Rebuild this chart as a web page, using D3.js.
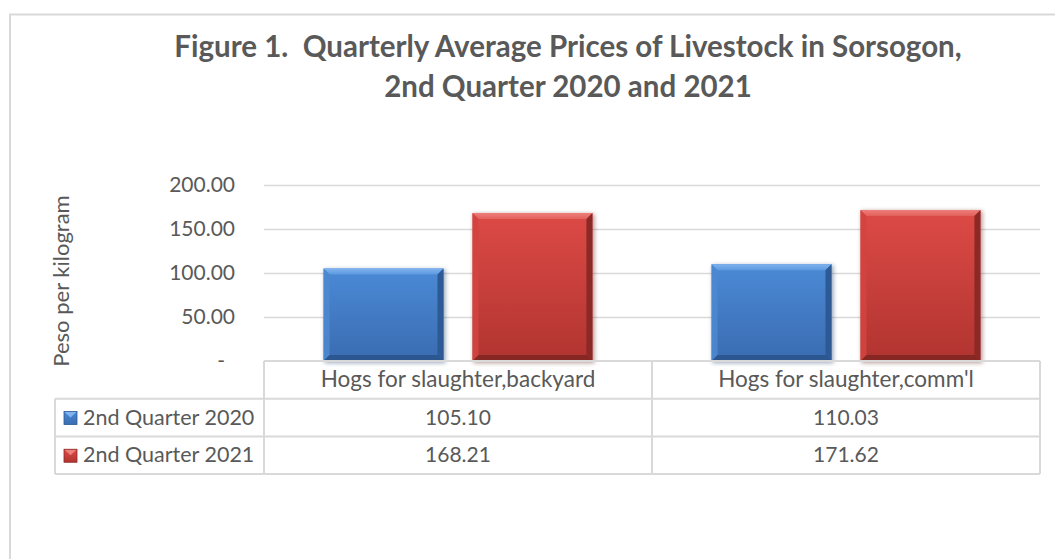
<!DOCTYPE html>
<html>
<head>
<meta charset="utf-8">
<script src="https://cdn.jsdelivr.net/npm/d3@7"></script>
<style>
  html, body { margin: 0; padding: 0; background: #fff; }
  svg { display: block; }
  text { font-family: Lato, "Noto Sans", sans-serif; fill: #595959; }
</style>
</head>
<body>
<div id="chart"></div>
<script>
// Data
const categories = ["Hogs for slaughter,backyard", "Hogs for slaughter,comm'l"];
const seriesNames = ["2nd Quarter 2020", "2nd Quarter 2021"];
const values2020 = [105.10, 110.03];
const values2021 = [168.21, 171.62];
const yTicks = [0, 50, 100, 150, 200];
const titleLines = ["Figure 1.  Quarterly Average Prices of Livestock in Sorsogon,", "2nd Quarter 2020 and 2021"];
const yAxisTitle = "Peso per kilogram";

const seriesValues = [values2020, values2021];

// Dimensions
const width = 1055;
const height = 559;
const plot = { left: 264, right: 1040, top: 185, bottom: 361 };
const rowH = 37.7;
const legendLeft = 55;
const bevel = 6;

const palette = [
  { top: "#4b8ad6", bottom: "#3a6cb1", hi: "#80b3ef", hi2: "#5c99df", left: "#4d88cf", right: "#2d5994", low: "#2b568f", shadow: "#1f3f6c" },
  { top: "#dd4a46", bottom: "#b13430", hi: "#ee7f7b", hi2: "#e2605c", left: "#d2443f", right: "#8b2926", low: "#862724", shadow: "#5e1b19" }
];

const svg = d3.select("#chart")
  .append("svg")
  .attr("width", width)
  .attr("height", height);

// outer chart border (cut by the image edge on right and bottom)
svg.append("path")
  .attr("d", `M10,${height + 5} L10,14.5 L${width + 5},14.5`)
  .attr("fill", "none")
  .attr("stroke", "#d9d9d9")
  .attr("stroke-width", 2);

const defs = svg.append("defs");
palette.forEach((p, i) => {
  const g = defs.append("linearGradient").attr("id", "bar" + i)
    .attr("x1", 0).attr("y1", 0).attr("x2", 0).attr("y2", 1);
  g.append("stop").attr("offset", "0%").attr("stop-color", p.top);
  g.append("stop").attr("offset", "100%").attr("stop-color", p.bottom);
  const h = defs.append("linearGradient").attr("id", "hi" + i)
    .attr("x1", 0).attr("y1", 0).attr("x2", 0).attr("y2", 1);
  h.append("stop").attr("offset", "0%").attr("stop-color", p.hi);
  h.append("stop").attr("offset", "100%").attr("stop-color", p.hi2);
});
const blur = defs.append("filter").attr("id", "shadow")
  .attr("x", "-20%").attr("y", "-20%").attr("width", "140%").attr("height", "140%");
blur.append("feGaussianBlur").attr("stdDeviation", 2);

// Title
svg.append("g").selectAll("text")
  .data(titleLines)
  .join("text")
  .attr("x", 568)
  .attr("y", (d, i) => 57 + i * 40)
  .attr("text-anchor", "middle")
  .style("font-size", "29.5px")
  .style("font-weight", "bold")
  .style("white-space", "pre")
  .text(d => d);

// Scales
const y = d3.scaleLinear().domain([0, 200]).range([plot.bottom, plot.top]);
const x0 = d3.scaleBand().domain(categories).range([plot.left, plot.right]);
const x1 = d3.scaleBand().domain(seriesNames).range([0, x0.bandwidth()])
  .paddingInner(0.195).paddingOuter(0.4);

// Gridlines
svg.append("g").selectAll("line")
  .data(yTicks.filter(d => d > 0))
  .join("line")
  .attr("x1", plot.left).attr("x2", plot.right)
  .attr("y1", d => Math.round(y(d)) + 0.5).attr("y2", d => Math.round(y(d)) + 0.5)
  .attr("stroke", "#d9d9d9").attr("stroke-width", 1.5);

// Y axis labels
const yAxis = d3.axisLeft(y).tickValues(yTicks).tickSize(0).tickPadding(0)
  .tickFormat(d => d === 0 ? "-" : d3.format(".2f")(d));
const yAxisG = svg.append("g")
  .attr("transform", `translate(${plot.left - 29},0)`)
  .call(yAxis);
yAxisG.select(".domain").remove();
yAxisG.selectAll("text")
  .style("font-size", "21px")
  .style("font-family", "Lato, sans-serif")
  .attr("fill", "#595959")
  .attr("dx", d => d === 0 ? -10 : 0);

svg.append("text")
  .attr("transform", `translate(69,${(plot.top + plot.bottom) / 2 + 8}) rotate(-90)`)
  .attr("text-anchor", "middle")
  .style("font-size", "22px")
  .text(yAxisTitle);

// Bars
const barData = [];
categories.forEach((c, ci) => {
  seriesNames.forEach((s, si) => {
    barData.push({ cat: c, series: s, si, value: seriesValues[si][ci] });
  });
});

const bars = svg.append("g").selectAll("g")
  .data(barData)
  .join("g")
  .attr("transform", d => `translate(${x0(d.cat) + x1(d.series)},${y(d.value)})`);

const bw = x1.bandwidth();
bars.append("rect")
  .attr("x", 1).attr("y", 1)
  .attr("width", bw + 1)
  .attr("height", d => plot.bottom - y(d.value) + 1)
  .attr("fill", d => palette[d.si].shadow)
  .attr("opacity", 0.45)
  .attr("filter", "url(#shadow)");
bars.append("rect")
  .attr("width", bw)
  .attr("height", d => plot.bottom - y(d.value))
  .attr("fill", d => `url(#bar${d.si})`);
// bevel edges
bars.append("path")
  .attr("d", d => `M0,0 L${bw},0 L${bw - bevel},${bevel} L${bevel},${bevel} Z`)
  .attr("fill", d => `url(#hi${d.si})`);
bars.append("path")
  .attr("d", d => { const h = plot.bottom - y(d.value); return `M0,0 L${bevel},${bevel} L${bevel},${h - bevel} L0,${h} Z`; })
  .attr("fill", d => palette[d.si].left)
  .attr("opacity", 0.9);
bars.append("path")
  .attr("d", d => { const h = plot.bottom - y(d.value); return `M${bw},0 L${bw},${h} L${bw - bevel},${h - bevel} L${bw - bevel},${bevel} Z`; })
  .attr("fill", d => palette[d.si].right);
bars.append("path")
  .attr("d", d => { const h = plot.bottom - y(d.value); return `M0,${h} L${bw},${h} L${bw - bevel},${h - bevel} L${bevel},${h - bevel} Z`; })
  .attr("fill", d => palette[d.si].low);

// Data table
const table = svg.append("g");
const rowsY = [plot.bottom, plot.bottom + rowH, plot.bottom + 2 * rowH, plot.bottom + 3 * rowH];
const gridColor = "#d9d9d9";

// horizontal rules
table.append("line")
  .attr("x1", plot.left).attr("x2", plot.right)
  .attr("y1", rowsY[0]).attr("y2", rowsY[0])
  .attr("stroke", gridColor).attr("stroke-width", 2);
table.selectAll(".hrule")
  .data(rowsY.slice(1))
  .join("line")
  .attr("class", "hrule")
  .attr("x1", legendLeft).attr("x2", plot.right)
  .attr("y1", d => d).attr("y2", d => d)
  .attr("stroke", gridColor).attr("stroke-width", 2);
// vertical rules
const colEdges = [plot.left, ...categories.map(c => x0(c) + x0.bandwidth())];
table.selectAll(".vrule")
  .data(colEdges)
  .join("line")
  .attr("class", "vrule")
  .attr("x1", d => d).attr("x2", d => d)
  .attr("y1", rowsY[0]).attr("y2", rowsY[3])
  .attr("stroke", gridColor).attr("stroke-width", 2);
table.append("line")
  .attr("x1", legendLeft).attr("x2", legendLeft)
  .attr("y1", rowsY[1]).attr("y2", rowsY[3])
  .attr("stroke", gridColor).attr("stroke-width", 2);

// header texts
table.selectAll(".head")
  .data(categories)
  .join("text")
  .attr("class", "head")
  .attr("x", d => x0(d) + x0.bandwidth() / 2)
  .attr("y", rowsY[0] + rowH / 2 + 7)
  .attr("text-anchor", "middle")
  .style("font-size", "22.5px")
  .text(d => d);

// value rows
seriesNames.forEach((s, si) => {
  const ry = rowsY[si + 1];
  const row = table.append("g");
  // legend key
  const key = row.append("g").attr("transform", `translate(64,${ry + rowH / 2 - 6})`);
  key.append("rect").attr("width", 13).attr("height", 13).attr("fill", `url(#bar${si})`);
  key.append("path").attr("d", "M0,0 L13,0 L6.5,6 Z").attr("fill", palette[si].hi);
  key.append("rect").attr("width", 13).attr("height", 13).attr("fill", "none")
    .attr("stroke", palette[si].right).attr("stroke-width", 0.8);
  row.append("text")
    .attr("x", 83)
    .attr("y", ry + rowH / 2 + 7)
    .style("font-size", "21.5px")
    .text(s);
  row.selectAll(".val")
    .data(categories)
    .join("text")
    .attr("class", "val")
    .attr("x", d => x0(d) + x0.bandwidth() / 2)
    .attr("y", ry + rowH / 2 + 7)
    .attr("text-anchor", "middle")
    .style("font-size", "21px")
    .text((d, ci) => d3.format(".2f")(seriesValues[si][ci]));
});
</script>
</body>
</html>
